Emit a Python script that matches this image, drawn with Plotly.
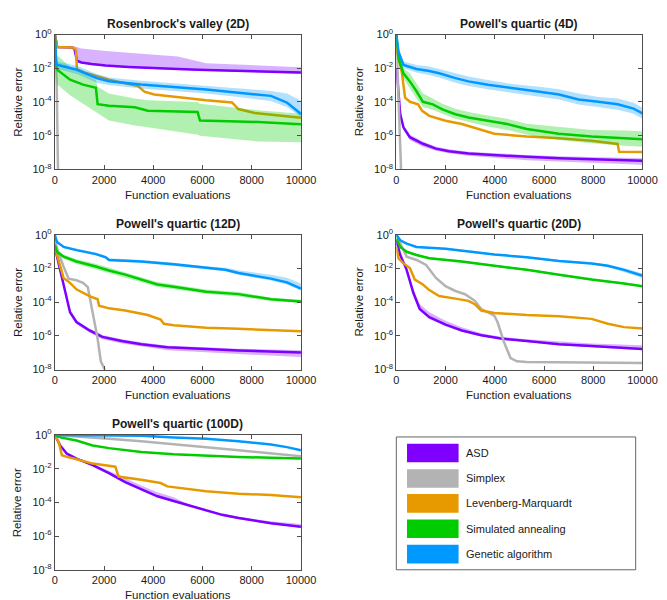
import plotly.graph_objects as go

# ---------------- labels / styling data ----------------
method_names = ["ASD", "Simplex", "Levenberg-Marquardt", "Simulated annealing", "Genetic algorithm"]
method_colors = ["#7F00FF", "#B3B3B3", "#E69A00", "#00CC00", "#0099FF"]
band_colors = ["rgba(127,0,255,0.30)", "rgba(179,179,179,0.30)", "rgba(230,154,0,0.30)",
               "rgba(0,204,0,0.30)", "rgba(0,153,255,0.30)"]
panel_titles = ["Rosenbrock's valley (2D)", "Powell's quartic (4D)", "Powell's quartic (12D)",
                "Powell's quartic (20D)", "Powell's quartic (100D)"]
x_tick_vals = [0, 2000, 4000, 6000, 8000, 10000]
y_tick_vals = [1e0, 1e-2, 1e-4, 1e-6, 1e-8]
y_tick_text = ["10<sup>0</sup>", "10<sup>-2</sup>", "10<sup>-4</sup>", "10<sup>-6</sup>", "10<sup>-8</sup>"]
x_label = "Function evaluations"
y_label = "Relative error"

# ---------------- Panel 1: Rosenbrock's valley (2D) ----------------
p1_asd_x = [0, 100, 700, 800, 900, 1080, 1500, 2070, 3000, 4040, 5000, 6150, 8000, 10000]
p1_asd = [1, 1.8e-1, 1.7e-1, 1.4e-1, 2.8e-2, 2.2e-2, 1.8e-2, 1.45e-2, 1.2e-2, 1.0e-2, 8.9e-3, 7.9e-3, 6.8e-3, 5.6e-3]
p1_asd_hi = [1, 2.1e-1, 2.1e-1, 2.0e-1, 1.8e-1, 1.5e-1, 1.26e-1, 1.07e-1, 8.3e-2, 6.6e-2, 5.0e-2, 2.0e-2, 1.5e-2, 1.15e-2]
p1_asd_lo = [1, 1.66e-1, 1.58e-1, 1.26e-1, 2.5e-2, 1.9e-2, 1.5e-2, 1.26e-2, 1.05e-2, 8.7e-3, 7.9e-3, 7.1e-3, 6.0e-3, 4.5e-3]
p1_spx_x = [0, 80, 120, 150]
p1_spx = [1, 1e-3, 1e-7, 1e-10]
p1_lm_x = [0, 100, 750, 860, 900, 1200, 2200, 3380, 3640, 4040, 6150, 7200, 7460, 8120, 10000]
p1_lm = [1, 1.8e-1, 1.7e-1, 1.26e-1, 8.9e-3, 5.6e-3, 2.1e-3, 8.7e-4, 4.1e-4, 2.8e-4, 1.26e-4, 9.3e-5, 3.8e-5, 2.2e-5, 1.15e-5]
p1_sa_x = [0, 60, 100, 620, 1150, 1670, 1740, 2200, 3250, 3780, 5800, 5900, 8250, 10000]
p1_sa = [1, 1.26e-2, 8.1e-3, 2.1e-3, 1.07e-3, 6.9e-4, 7.4e-5, 6.0e-5, 4.8e-5, 3.0e-5, 2.5e-5, 7.9e-6, 6.5e-6, 4.7e-6]
p1_sa_hi = [1, 7.1e-2, 6.0e-2, 1.26e-2, 5.0e-3, 2.0e-3, 7.9e-4, 3.2e-4, 1.6e-4, 1.26e-4, 1.0e-4, 7.9e-5, 3.2e-5, 2.0e-5]
p1_sa_lo = [1, 1.6e-3, 1.07e-3, 2.5e-4, 7.9e-5, 2.5e-5, 2.0e-5, 7.9e-6, 4.0e-6, 3.2e-6, 1.12e-6, 1.0e-6, 4.5e-7, 4.0e-7]
p1_ga_x = [0, 60, 100, 900, 1700, 2200, 3500, 4800, 6150, 7460, 8780, 9430, 10000]
p1_ga = [1, 2.0e-2, 1.6e-2, 8.1e-3, 2.6e-3, 1.7e-3, 1.07e-3, 7.6e-4, 5.5e-4, 3.5e-4, 2.3e-4, 9.3e-5, 1.95e-5]
p1_ga_hi = [1, 2.8e-2, 2.5e-2, 1.4e-2, 4.5e-3, 2.8e-3, 1.8e-3, 1.26e-3, 8.9e-4, 6.3e-4, 4.5e-4, 3.2e-4, 1.17e-4]
p1_ga_lo = [1, 1.12e-2, 8.9e-3, 4.5e-3, 1.4e-3, 1.0e-3, 6.3e-4, 4.5e-4, 3.2e-4, 2.0e-4, 1.12e-4, 5.0e-5, 1.26e-5]

# ---------------- Panel 2: Powell's quartic (4D) ----------------
p2_asd_x = [0, 30, 160, 290, 550, 1080, 1610, 2140, 2930, 3980, 5300, 6610, 7930, 10000]
p2_asd = [1.0e-2, 4.1e-3, 1.86e-5, 3.1e-6, 8.1e-7, 3.3e-7, 1.7e-7, 1.17e-7, 8.7e-8, 6.9e-8, 5.5e-8, 4.5e-8, 3.9e-8, 3.2e-8]
p2_asd_hi = [1.26e-2, 5.0e-3, 2.5e-5, 4.0e-6, 1.12e-6, 4.5e-7, 2.2e-7, 1.58e-7, 1.12e-7, 8.9e-8, 7.1e-8, 6.0e-8, 5.2e-8, 4.5e-8]
p2_asd_lo = [7.9e-3, 3.2e-3, 1.4e-5, 2.2e-6, 5.6e-7, 2.2e-7, 1.26e-7, 8.9e-8, 6.3e-8, 4.8e-8, 3.5e-8, 2.8e-8, 2.4e-8, 1.9e-8]
p2_spx_x = [0, 100, 200, 240]
p2_spx = [1, 1e-4, 1e-8, 1e-10]
p2_lm_x = [0, 30, 220, 356, 553, 883, 950, 1050, 1340, 2000, 2660, 3320, 3980, 5300, 6610, 7930, 8990, 9050, 10000]
p2_lm = [1, 9.3e-2, 6.3e-3, 1.78e-4, 1.02e-4, 7.2e-5, 5.0e-5, 2.95e-5, 1.5e-5, 7.6e-6, 4.9e-6, 2.5e-6, 1.3e-6, 8.9e-7, 7.1e-7, 5.0e-7, 3.2e-7, 1.12e-7, 1.07e-7]
p2_sa_x = [0, 90, 290, 550, 820, 1080, 1480, 1870, 2400, 2930, 3720, 4500, 5300, 6600, 7930, 9250, 10000]
p2_sa = [1, 3.8e-2, 5.0e-3, 1.66e-3, 4.3e-4, 1.02e-4, 7.2e-5, 3.6e-5, 1.86e-5, 1.2e-5, 7.6e-6, 4.9e-6, 2.5e-6, 1.3e-6, 8.9e-7, 7.1e-7, 6.2e-7]
p2_sa_hi = [1, 6.3e-2, 1.0e-2, 5.0e-3, 1.26e-3, 3.2e-4, 1.58e-4, 7.9e-5, 4.0e-5, 2.5e-5, 1.58e-5, 1.0e-5, 5.0e-6, 3.2e-6, 2.2e-6, 2.0e-6, 1.8e-6]
p2_sa_lo = [1, 2.5e-2, 2.5e-3, 6.3e-4, 1.58e-4, 5.0e-5, 3.5e-5, 2.0e-5, 1.0e-5, 6.3e-6, 3.5e-6, 2.2e-6, 1.12e-6, 5.6e-7, 3.5e-7, 2.5e-7, 2.2e-7]
p2_ga_x = [0, 90, 290, 820, 1340, 1740, 2400, 2930, 3720, 4770, 5820, 6610, 7400, 8200, 8990, 9640, 10000]
p2_ga = [1, 9.3e-2, 1.55e-2, 9.1e-3, 6.9e-3, 5.0e-3, 2.6e-3, 1.66e-3, 1.05e-3, 6.2e-4, 4.0e-4, 2.75e-4, 1.4e-4, 1.02e-4, 7.2e-5, 4.0e-5, 2.1e-5]
p2_ga_hi = [1, 1.58e-1, 2.5e-2, 1.58e-2, 1.26e-2, 8.9e-3, 5.0e-3, 3.2e-3, 2.0e-3, 1.12e-3, 7.9e-4, 5.6e-4, 3.2e-4, 2.0e-4, 1.58e-4, 8.9e-5, 4.5e-5]
p2_ga_lo = [1, 5.6e-2, 1.0e-2, 5.6e-3, 4.0e-3, 2.8e-3, 1.4e-3, 8.9e-4, 5.6e-4, 3.2e-4, 2.0e-4, 1.4e-4, 7.1e-5, 5.0e-5, 3.5e-5, 2.0e-5, 1.0e-5]

# ---------------- Panel 3: Powell's quartic (12D) ----------------
p3_asd_x = [0, 220, 355, 620, 880, 1410, 1930, 2720, 3510, 4570, 6150, 7460, 10000]
p3_asd = [1.9e-1, 8.3e-3, 8.9e-4, 2.5e-5, 6.6e-6, 2.1e-6, 8.7e-7, 4.9e-7, 3.2e-7, 2.1e-7, 1.66e-7, 1.35e-7, 1.02e-7]
p3_asd_hi = [2.0e-1, 1.0e-2, 1.12e-3, 3.2e-5, 8.3e-6, 2.7e-6, 1.12e-6, 6.3e-7, 4.2e-7, 2.6e-7, 2.1e-7, 1.74e-7, 1.41e-7]
p3_asd_lo = [1.78e-1, 7.1e-3, 7.1e-4, 2.0e-5, 5.0e-6, 1.58e-6, 6.3e-7, 3.5e-7, 2.4e-7, 1.41e-7, 1.05e-7, 8.3e-8, 5.6e-8]
p3_spx_x = [0, 90, 355, 560, 880, 1150, 1340, 1540, 1740, 1870, 2000, 2070]
p3_spx = [6.3e-1, 1.58e-1, 1.32e-2, 2.5e-3, 2.0e-3, 1.4e-3, 7.9e-4, 2.5e-5, 6.9e-7, 3.1e-8, 1.26e-8, 3.2e-9]
p3_lm_x = [0, 90, 355, 620, 880, 1410, 1740, 1800, 2200, 2860, 3780, 4300, 4430, 4830, 6150, 7460, 8780, 10000]
p3_lm = [1.9e-1, 6.3e-2, 2.75e-3, 1.4e-3, 5.8e-4, 2.3e-4, 1.48e-4, 6.2e-5, 4.3e-5, 3.2e-5, 1.74e-5, 9.3e-6, 5.2e-6, 4.2e-6, 3.0e-6, 2.6e-6, 2.1e-6, 1.86e-6]
p3_sa_x = [0, 90, 360, 880, 1670, 2200, 2860, 3510, 4170, 4830, 5490, 6150, 7460, 8120, 8780, 10000]
p3_sa = [2.5e-1, 9.8e-2, 5.0e-2, 2.6e-2, 1.32e-2, 7.6e-3, 4.3e-3, 2.2e-3, 1.12e-3, 8.1e-4, 5.8e-4, 4.2e-4, 3.0e-4, 2.1e-4, 1.48e-4, 1.1e-4]
p3_sa_hi = [3.2e-1, 1.26e-1, 6.8e-2, 3.5e-2, 1.9e-2, 1.12e-2, 6.3e-3, 3.2e-3, 1.58e-3, 1.12e-3, 7.9e-4, 5.6e-4, 4.0e-4, 2.8e-4, 1.9e-4, 1.4e-4]
p3_sa_lo = [2.0e-1, 7.6e-2, 3.8e-2, 1.86e-2, 8.9e-3, 5.0e-3, 2.8e-3, 1.5e-3, 7.9e-4, 6.0e-4, 4.3e-4, 3.2e-4, 2.2e-4, 1.66e-4, 1.17e-4, 8.9e-5]
p3_ga_x = [0, 90, 360, 880, 1670, 2070, 2200, 3510, 4830, 6150, 6930, 7460, 8250, 8780, 9430, 10000]
p3_ga = [1, 3.7e-1, 1.9e-1, 1.23e-1, 7.1e-2, 4.6e-2, 3.2e-2, 2.6e-2, 1.8e-2, 1.05e-2, 8.3e-3, 5.4e-3, 3.4e-3, 2.5e-3, 1.5e-3, 6.3e-4]
p3_ga_hi = [1, 4.2e-1, 2.2e-1, 1.48e-1, 8.9e-2, 5.6e-2, 4.0e-2, 3.2e-2, 2.2e-2, 1.35e-2, 1.12e-2, 7.9e-3, 5.6e-3, 4.2e-3, 2.8e-3, 1.26e-3]
p3_ga_lo = [1, 3.3e-1, 1.58e-1, 1.05e-1, 6.0e-2, 4.0e-2, 2.7e-2, 2.2e-2, 1.48e-2, 8.9e-3, 6.8e-3, 4.3e-3, 2.7e-3, 1.9e-3, 1.12e-3, 5.0e-4]

# ---------------- Panel 4: Powell's quartic (20D) ----------------
p4_asd_x = [0, 160, 420, 690, 950, 1340, 2000, 2660, 3450, 4240, 5300, 6610, 7930, 10000]
p4_asd = [4.7e-1, 6.3e-2, 8.3e-3, 3.6e-4, 3.9e-5, 1.29e-5, 4.6e-6, 2.1e-6, 1.1e-6, 6.9e-7, 4.9e-7, 3.2e-7, 2.5e-7, 1.66e-7]
p4_asd_hi = [5.0e-1, 7.9e-2, 1.12e-2, 6.3e-4, 7.9e-5, 2.5e-5, 7.9e-6, 3.2e-6, 1.41e-6, 8.9e-7, 6.3e-7, 4.5e-7, 3.5e-7, 2.8e-7]
p4_asd_lo = [4.4e-1, 5.0e-2, 6.6e-3, 2.8e-4, 3.2e-5, 1.05e-5, 3.8e-6, 1.82e-6, 9.5e-7, 6.0e-7, 4.3e-7, 2.75e-7, 2.1e-7, 1.41e-7]
p4_spx_x = [0, 420, 820, 1210, 1610, 2000, 2400, 2790, 3190, 3450, 3980, 4110, 4370, 4640, 4900, 5300, 10000]
p4_spx = [1, 5.0e-2, 3.2e-2, 1.62e-2, 2.75e-3, 8.9e-4, 4.6e-4, 2.95e-4, 1.2e-4, 3.9e-5, 1.58e-5, 6.6e-6, 4.5e-7, 4.8e-8, 3.1e-8, 2.8e-8, 2.45e-8]
p4_lm_x = [0, 90, 290, 550, 750, 1080, 1340, 1740, 2400, 2930, 3190, 3450, 3980, 5300, 6610, 7930, 8590, 9250, 10000]
p4_lm = [1.9e-1, 4.0e-2, 2.0e-2, 1.05e-2, 2.2e-3, 1.12e-3, 5.2e-4, 2.3e-4, 1.62e-4, 1.2e-4, 7.6e-5, 3.2e-5, 2.3e-5, 1.74e-5, 1.48e-5, 1.02e-5, 5.2e-6, 3.3e-6, 2.7e-6]
p4_sa_x = [0, 160, 420, 820, 1340, 2660, 3980, 5300, 6610, 7930, 9250, 10000]
p4_sa = [5.9e-1, 1.9e-1, 9.8e-2, 6.3e-2, 4.0e-2, 2.6e-2, 1.45e-2, 8.3e-3, 4.3e-3, 2.2e-3, 1.3e-3, 8.9e-4]
p4_sa_hi = [6.3e-1, 2.2e-1, 1.12e-1, 7.2e-2, 4.6e-2, 2.95e-2, 1.66e-2, 9.5e-3, 4.9e-3, 2.5e-3, 1.48e-3, 1.02e-3]
p4_sa_lo = [5.5e-1, 1.62e-1, 8.5e-2, 5.5e-2, 3.5e-2, 2.2e-2, 1.26e-2, 7.2e-3, 3.7e-3, 1.9e-3, 1.12e-3, 7.8e-4]
p4_ga_x = [0, 160, 420, 820, 2000, 2660, 3980, 5300, 6610, 7930, 8590, 9250, 10000]
p4_ga = [1, 4.7e-1, 3.0e-1, 1.9e-1, 1.5e-1, 1.12e-1, 6.8e-2, 4.6e-2, 2.8e-2, 2.0e-2, 1.45e-2, 8.3e-3, 3.7e-3]
p4_ga_hi = [1, 5.2e-1, 3.4e-1, 2.1e-1, 1.7e-1, 1.26e-1, 7.6e-2, 5.1e-2, 3.2e-2, 2.3e-2, 1.74e-2, 1.05e-2, 5.0e-3]
p4_ga_lo = [1, 4.2e-1, 2.7e-1, 1.7e-1, 1.35e-1, 1.0e-1, 6.0e-2, 4.1e-2, 2.5e-2, 1.8e-2, 1.2e-2, 6.3e-3, 2.8e-3]

# ---------------- Panel 5: Powell's quartic (100D) ----------------
p5_asd_x = [0, 220, 490, 880, 1540, 2200, 2860, 3510, 4170, 4830, 5490, 6150, 6800, 7460, 8120, 8780, 10000]
p5_asd = [1, 2.4e-1, 7.8e-2, 4.0e-2, 1.62e-2, 5.4e-3, 1.58e-3, 5.8e-4, 2.3e-4, 1.2e-4, 6.2e-5, 3.2e-5, 1.82e-5, 1.17e-5, 8.1e-6, 5.8e-6, 3.6e-6]
p5_asd_hi = [1, 2.6e-1, 8.9e-2, 4.7e-2, 2.0e-2, 7.1e-3, 2.5e-3, 1.0e-3, 4.0e-4, 2.0e-4, 7.1e-5, 3.5e-5, 2.1e-5, 1.38e-5, 1.0e-5, 7.6e-6, 5.2e-6]
p5_asd_lo = [1, 2.2e-1, 6.9e-2, 3.5e-2, 1.41e-2, 4.7e-3, 1.38e-3, 5.0e-4, 2.0e-4, 1.05e-4, 5.4e-5, 2.75e-5, 1.58e-5, 1.02e-5, 7.1e-6, 5.0e-6, 3.2e-6]
p5_spx_x = [0, 880, 2200, 3510, 4830, 6150, 7460, 8780, 10000]
p5_spx = [1, 8.3e-1, 5.9e-1, 4.3e-1, 3.0e-1, 1.9e-1, 1.23e-1, 7.8e-2, 5.5e-2]
p5_lm_x = [0, 160, 290, 490, 880, 1540, 2460, 2590, 3510, 4300, 4570, 5490, 6150, 7460, 8780, 10000]
p5_lm = [1, 3.7e-1, 6.3e-2, 5.0e-2, 3.6e-2, 2.0e-2, 1.32e-2, 3.4e-3, 2.2e-3, 1.41e-3, 8.9e-4, 5.8e-4, 4.6e-4, 3.3e-4, 2.7e-4, 2.0e-4]
p5_sa_x = [0, 220, 880, 1540, 2200, 2860, 3510, 4830, 6150, 7460, 8780, 10000]
p5_sa = [1, 7.2e-1, 4.7e-1, 2.4e-1, 1.66e-1, 1.23e-1, 9.8e-2, 7.1e-2, 5.8e-2, 5.0e-2, 4.4e-2, 4.0e-2]
p5_ga_x = [0, 3510, 4830, 6150, 7460, 8780, 9430, 10000]
p5_ga = [1, 9.1e-1, 7.2e-1, 5.9e-1, 4.3e-1, 2.75e-1, 1.9e-1, 1.23e-1]

# series per panel, in legend order: (x, median, lo, hi)
panels = [
    [(p1_asd_x, p1_asd, p1_asd_lo, p1_asd_hi), (p1_spx_x, p1_spx, None, None),
     (p1_lm_x, p1_lm, None, None), (p1_sa_x, p1_sa, p1_sa_lo, p1_sa_hi),
     (p1_ga_x, p1_ga, p1_ga_lo, p1_ga_hi)],
    [(p2_asd_x, p2_asd, p2_asd_lo, p2_asd_hi), (p2_spx_x, p2_spx, None, None),
     (p2_lm_x, p2_lm, None, None), (p2_sa_x, p2_sa, p2_sa_lo, p2_sa_hi),
     (p2_ga_x, p2_ga, p2_ga_lo, p2_ga_hi)],
    [(p3_asd_x, p3_asd, p3_asd_lo, p3_asd_hi), (p3_spx_x, p3_spx, None, None),
     (p3_lm_x, p3_lm, None, None), (p3_sa_x, p3_sa, p3_sa_lo, p3_sa_hi),
     (p3_ga_x, p3_ga, p3_ga_lo, p3_ga_hi)],
    [(p4_asd_x, p4_asd, p4_asd_lo, p4_asd_hi), (p4_spx_x, p4_spx, None, None),
     (p4_lm_x, p4_lm, None, None), (p4_sa_x, p4_sa, p4_sa_lo, p4_sa_hi),
     (p4_ga_x, p4_ga, p4_ga_lo, p4_ga_hi)],
    [(p5_asd_x, p5_asd, p5_asd_lo, p5_asd_hi), (p5_spx_x, p5_spx, None, None),
     (p5_lm_x, p5_lm, None, None), (p5_sa_x, p5_sa, None, None),
     (p5_ga_x, p5_ga, None, None)],
]

# ---------------- layout geometry (pixels in a 667x600 canvas) ----------------
W, H = 667, 600
col_px = [(45, 298), (396, 649)]
row_px = [(19, 157), (224, 362), (429, 567)]
cells = [(0, 0), (0, 1), (1, 0), (1, 1), (2, 0)]


def px_x(p):
    return p / W


def px_y(p):
    return 1 - p / H


FONT = "Liberation Sans, Arial, Helvetica, sans-serif"
fig = go.Figure()
layout_axes = {}
annotations = []

for i, series in enumerate(panels):
    r, c = cells[i]
    n = i + 1
    xa = "x" if n == 1 else f"x{n}"
    ya = "y" if n == 1 else f"y{n}"
    # each method: its line, then its translucent spread band
    for k, (xs, ys, lo, hi) in enumerate(series):
        fig.add_trace(go.Scatter(x=xs, y=ys, mode="lines", xaxis=xa, yaxis=ya,
                                 line=dict(color=method_colors[k], width=2.5),
                                 showlegend=False, hoverinfo="skip"))
        if lo is not None:
            fig.add_trace(go.Scatter(x=list(xs) + list(xs)[::-1], y=list(hi) + list(lo)[::-1],
                                     mode="lines", fill="toself", fillcolor=band_colors[k],
                                     line=dict(width=0), xaxis=xa, yaxis=ya,
                                     showlegend=False, hoverinfo="skip"))

    x0, x1 = col_px[c]
    y0, y1 = row_px[r]
    ax_common = dict(showline=True, linecolor="#4d4d4d", linewidth=1, mirror="ticks",
                     ticks="inside", ticklen=4, tickcolor="#4d4d4d", showgrid=False,
                     zeroline=False, tickfont=dict(family=FONT, size=11, color="#1a1a1a"))
    layout_axes["xaxis" if n == 1 else f"xaxis{n}"] = dict(
        ax_common, domain=[px_x(x0), px_x(x1)], anchor=ya, range=[0, 10000],
        tickmode="array", tickvals=x_tick_vals, ticktext=[str(v) for v in x_tick_vals])
    layout_axes["yaxis" if n == 1 else f"yaxis{n}"] = dict(
        ax_common, domain=[px_y(y1), px_y(y0)], anchor=xa, type="log", range=[-8, 0],
        tickmode="array", tickvals=y_tick_vals, ticktext=y_tick_text)

    xc = (x0 + x1) / 2
    annotations.append(dict(text=f"<b>{panel_titles[i]}</b>", x=px_x(xc), y=px_y(y0 - 11),
                            xref="paper", yref="paper", showarrow=False,
                            xanchor="center", yanchor="middle",
                            font=dict(family=FONT, size=12, color="#1a1a1a")))
    annotations.append(dict(text=x_label, x=px_x(xc), y=px_y(y1 + 26),
                            xref="paper", yref="paper", showarrow=False,
                            xanchor="center", yanchor="middle",
                            font=dict(family=FONT, size=11.5, color="#1a1a1a")))
    annotations.append(dict(text=y_label, x=px_x(x0 - 38), y=px_y((y0 + y1) / 2),
                            xref="paper", yref="paper", showarrow=False, textangle=-90,
                            xanchor="center", yanchor="middle",
                            font=dict(family=FONT, size=11.5, color="#1a1a1a")))

# ---------------- custom legend box ----------------
shapes = [dict(type="rect", xref="paper", yref="paper", x0=px_x(396), x1=px_x(642),
               y0=px_y(567), y1=px_y(431), line=dict(color="#666666", width=1),
               fillcolor="white")]
entry_centers = [447.5, 473.5, 499, 525, 551]
for k, name in enumerate(method_names):
    yc = entry_centers[k]
    shapes.append(dict(type="rect", xref="paper", yref="paper", x0=px_x(407), x1=px_x(460),
                       y0=px_y(yc + 9.5), y1=px_y(yc - 9.5),
                       line=dict(width=0), fillcolor=method_colors[k]))
    annotations.append(dict(text=name, x=px_x(466), y=px_y(yc), xref="paper", yref="paper",
                            showarrow=False, xanchor="left", yanchor="middle",
                            font=dict(family=FONT, size=11, color="#1a1a1a")))

fig.update_layout(width=W, height=H, margin=dict(l=0, r=0, t=0, b=0),
                  paper_bgcolor="white", plot_bgcolor="white",
                  font=dict(family=FONT), showlegend=False,
                  annotations=annotations, shapes=shapes, **layout_axes)

fig.write_html("out.html")
